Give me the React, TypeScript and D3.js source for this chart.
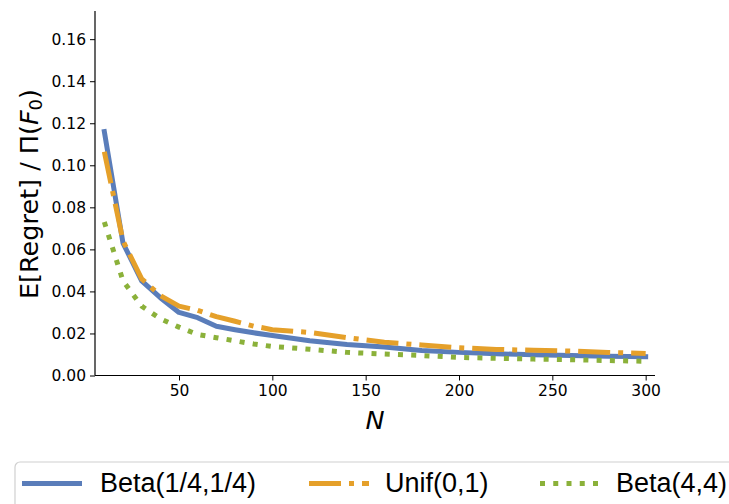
import React, { useEffect, useRef } from "react";
import * as d3 from "d3";

// sample sizes
const nValues = [10, 20, 30, 40, 50, 60, 70, 80, 90, 100, 120, 140, 160, 180, 200, 220, 240, 260, 280, 300];
// E[Regret]/Pi(F0) per prior
const betaQuarter = [0.116, 0.063, 0.045, 0.037, 0.030, 0.0275, 0.0234, 0.0218, 0.0203, 0.019, 0.0165, 0.0147, 0.0136, 0.0119, 0.011, 0.0103, 0.0099, 0.0095, 0.0092, 0.0089];
const unif = [0.1064, 0.064, 0.046, 0.038, 0.033, 0.031, 0.028, 0.0258, 0.0235, 0.0218, 0.0205, 0.018, 0.0158, 0.0145, 0.0132, 0.0124, 0.012, 0.0116, 0.011, 0.0105];
const betaFour = [0.073, 0.045, 0.033, 0.027, 0.023, 0.0195, 0.018, 0.0165, 0.015, 0.0138, 0.0125, 0.011, 0.0102, 0.0095, 0.0086, 0.0082, 0.0078, 0.0075, 0.0071, 0.0068];

const seriesNames = ["Beta(1/4,1/4)", "Unif(0,1)", "Beta(4,4)"];
const seriesColors = ["#5a7dba", "#e5a02a", "#8bb13a"];
const seriesDash = [null, "32,8,5,8", "5,8.25"];

const xTicks = [50, 100, 150, 200, 250, 300];
const yTicks = [0, 0.02, 0.04, 0.06, 0.08, 0.1, 0.12, 0.14, 0.16];

export default function App() {
  const ref = useRef<SVGSVGElement>(null);

  useEffect(() => {
    const svg = d3.select(ref.current);
    svg.selectAll("*").remove();

    const x = d3.scaleLinear().domain([5, 305]).range([95, 655]);
    const y = d3.scaleLinear().domain([0, 0.1734]).range([375.5, 11]);

    const allSeries = [betaQuarter, unif, betaFour];
    const line = d3
      .line<number>()
      .x((d, i) => x(nValues[i]))
      .y((d) => y(d));

    const g = svg.append("g");
    allSeries.forEach((s, k) => {
      g.append("path")
        .datum(s)
        .attr("d", line)
        .attr("fill", "none")
        .attr("stroke", seriesColors[k])
        .attr("stroke-width", 5)
        .attr("stroke-linejoin", "round")
        .attr("stroke-dasharray", seriesDash[k])
        .attr("stroke-linecap", k == 0 ? "square" : "butt");
    });

    // axes
    const xAxis = svg
      .append("g")
      .attr("transform", "translate(0,375.5)")
      .call(d3.axisBottom(x).tickValues(xTicks).tickSize(5).tickPadding(4).tickFormat(d3.format("d")));
    const yAxis = svg
      .append("g")
      .attr("transform", "translate(95,0)")
      .call(d3.axisLeft(y).tickValues(yTicks).tickSize(5).tickPadding(4).tickFormat(d3.format(".2f")));
    [xAxis, yAxis].forEach((a) => {
      a.select(".domain").attr("stroke", "#000").attr("stroke-width", 1.2);
      a.selectAll(".tick line").attr("stroke", "#000").attr("stroke-width", 1);
      a.selectAll("text")
        .attr("font-family", "DejaVu Sans")
        .attr("font-size", 15.5)
        .attr("fill", "#000");
    });
    xAxis.select(".domain").attr("d", "M95,0H655");
    yAxis.select(".domain").attr("d", "M0,375.5V11");

    // axis labels
    svg
      .append("text")
      .attr("x", 375)
      .attr("y", 429)
      .attr("text-anchor", "middle")
      .attr("font-family", "DejaVu Sans")
      .attr("font-style", "italic")
      .attr("font-size", 25.5)
      .text("N");

    const yl = svg
      .append("text")
      .attr("transform", "translate(38,194) rotate(-90)")
      .attr("text-anchor", "middle")
      .attr("font-family", "DejaVu Sans")
      .attr("font-size", 25.5);
    yl.append("tspan").text("E[Regret] / Π(");
    yl.append("tspan").attr("font-style", "italic").text("F");
    yl.append("tspan").attr("font-size", 18).attr("dy", 4).text("0");
    yl.append("tspan").attr("dy", -4).text(")");

    // legend
    const lg = svg.append("g");
    lg.append("rect")
      .attr("x", 15)
      .attr("y", 462)
      .attr("width", 760)
      .attr("height", 60)
      .attr("rx", 5)
      .attr("fill", "#fff")
      .attr("stroke", "#d0d0d0")
      .attr("stroke-width", 1.2);
    const legX = [22, 309, 540];
    const textX = [100, 385, 616];
    seriesNames.forEach((name, k) => {
      lg.append("line")
        .attr("x1", legX[k])
        .attr("x2", legX[k] + 60)
        .attr("y1", 483.5)
        .attr("y2", 483.5)
        .attr("stroke", seriesColors[k])
        .attr("stroke-width", 5)
        .attr("stroke-dasharray", seriesDash[k]);
      lg.append("text")
        .attr("x", textX[k])
        .attr("y", 492)
        .attr("font-family", "Liberation Sans")
        .attr("font-size", 27)
        .attr("fill", "#000")
        .text(name);
    });
  }, []);

  return (
    <div style={{ position: "absolute", left: 0, top: 0 }}>
      <svg ref={ref} width={729} height={504} style={{ display: "block", background: "#fff" }}></svg>
    </div>
  );
}
